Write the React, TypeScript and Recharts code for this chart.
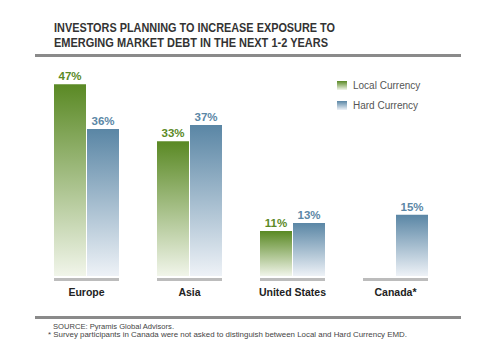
import React from 'react';
import { BarChart, Bar, XAxis, YAxis, LabelList } from 'recharts';

const categories = ['Europe', 'Asia', 'United States', 'Canada*'];
const localCurrency: (number | null)[] = [47, 33, 11, null];
const hardCurrency: (number | null)[] = [36, 37, 13, 15];
const seriesNames = ['Local Currency', 'Hard Currency'];
const titleLines = [
  'INVESTORS PLANNING TO INCREASE EXPOSURE TO',
  'EMERGING MARKET DEBT IN THE NEXT 1-2 YEARS',
];
const footnotes = [
  'SOURCE: Pyramis Global Advisors.',
  '* Survey participants in Canada were not asked to distinguish between Local and Hard Currency EMD.',
];

const data = categories.map((c, i) => ({
  category: c,
  local: localCurrency[i],
  hard: hardCurrency[i],
}));

const GREEN = '#5b8a26';
const BLUE = '#5b87a6';
const FONT = '"Liberation Sans", Arial, sans-serif';

const fmt = (v: any) => (v === null || v === undefined ? '' : `${v}%`);

const CategoryTick = (props: any) => {
  const { x, y, payload } = props;
  return (
    <g>
      <rect x={x - 32.5} y={y + 2} width={65} height={3} fill="#bcbcbc" />
      <text
        x={x}
        y={y + 20}
        textAnchor="middle"
        fontFamily={FONT}
        fontWeight="bold"
        fontSize={10.5}
        fill="#222"
      >
        {payload.value}
      </text>
    </g>
  );
};

export default function App() {
  return (
    <div
      style={{
        position: 'absolute',
        left: 0,
        top: 0,
        width: 480,
        height: 360,
        background: '#fff',
        overflow: 'hidden',
      }}
    >
      <svg width={0} height={0} style={{ position: 'absolute' }}>
        <defs>
          <linearGradient id="gradLocal" x1="0" y1="0" x2="0" y2="1">
            <stop offset="0%" stopColor="#5a8924" />
            <stop offset="100%" stopColor="#f1f5ea" />
          </linearGradient>
          <linearGradient id="gradHard" x1="0" y1="0" x2="0" y2="1">
            <stop offset="0%" stopColor="#5a86a5" />
            <stop offset="100%" stopColor="#eef2f7" />
          </linearGradient>
        </defs>
      </svg>
      <BarChart
        width={480}
        height={360}
        data={data}
        margin={{ top: 72, right: 33, bottom: 54, left: 35 }}
        barSize={32}
        barGap={1}
      >
        <XAxis
          dataKey="category"
          axisLine={false}
          tickLine={false}
          tickSize={0}
          tickMargin={0}
          height={30}
          interval={0}
          tick={<CategoryTick />}
        />
        <YAxis hide domain={[0, 50]} />
        <Bar dataKey="local" fill="url(#gradLocal)" isAnimationActive={false}>
          <LabelList
            dataKey="local"
            position="top"
            offset={4}
            formatter={fmt}
            fill={GREEN}
            fontSize={11.5}
            fontWeight={600}
            fontFamily={FONT}
          />
        </Bar>
        <Bar dataKey="hard" fill="url(#gradHard)" isAnimationActive={false}>
          <LabelList
            dataKey="hard"
            position="top"
            offset={4}
            formatter={fmt}
            fill={BLUE}
            fontSize={11.5}
            fontWeight={600}
            fontFamily={FONT}
          />
        </Bar>
      </BarChart>
      <svg
        width={480}
        height={360}
        style={{ position: 'absolute', left: 0, top: 0, pointerEvents: 'none' }}
      >
        {titleLines.map((t, i) => (
          <text
            key={t}
            x={54}
            y={32 + i * 15}
            fontFamily={FONT}
            fontWeight="bold"
            fontSize={12.5}
            fill="#333"
            textLength={i === 0 ? 281 : 274}
            lengthAdjust="spacingAndGlyphs"
          >
            {t}
          </text>
        ))}
        <rect x={35} y={54} width={426} height={3} fill="#8a8a8a" />
        <rect x={35} y={316} width={426} height={3} fill="#8a8a8a" />
        {seriesNames.map((n, i) => (
          <g key={n}>
            <rect
              x={337}
              y={81 + i * 20}
              width={10}
              height={9}
              fill={i === 0 ? 'url(#gradLocal)' : 'url(#gradHard)'}
            />
            <text
              x={353}
              y={89 + i * 20}
              fontFamily={FONT}
              fontSize={10}
              fill="#555"
            >
              {n}
            </text>
          </g>
        ))}
        <text
          x={53}
          y={329}
          fontFamily={FONT}
          fontSize={7.6}
          fill="#444"
          textLength={121}
          lengthAdjust="spacingAndGlyphs"
        >
          {footnotes[0]}
        </text>
        <text
          x={48}
          y={336.5}
          fontFamily={FONT}
          fontSize={7.6}
          fill="#444"
          textLength={359}
          lengthAdjust="spacingAndGlyphs"
        >
          {footnotes[1]}
        </text>
      </svg>
    </div>
  );
}
